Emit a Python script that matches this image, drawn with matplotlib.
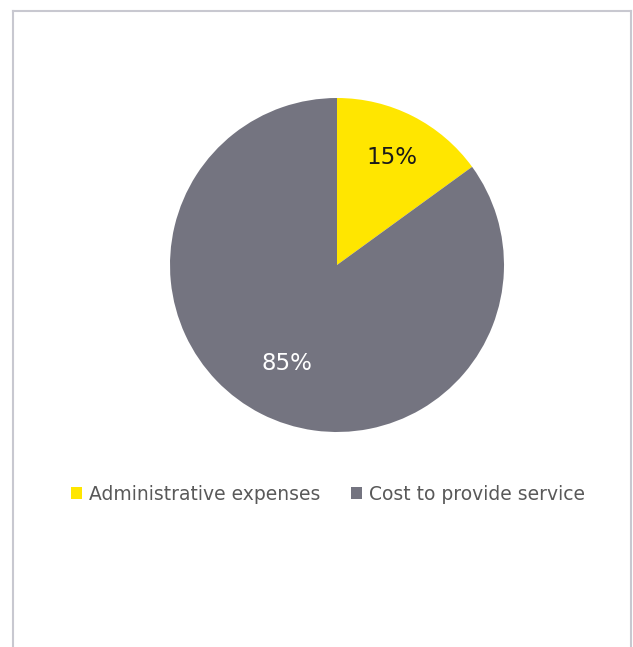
import numpy as np
import matplotlib.pyplot as plt

labels = ['Administrative expenses', 'Cost to provide service']
shares = [15, 85]
colors = ['#FFE600', '#747480']
pct_colors = ['#1a1a1a', 'white']
pct_radius = [0.72, 0.66]

fig = plt.figure(figsize=(6.33, 6.47), dpi=100)
fig.patch.set_facecolor('white')

# light grey frame, open at the bottom
W, H = 633, 647
frame = dict(color='#c8c8d0', lw=1.5)
fig.add_artist(plt.Line2D([13 / W, 13 / W], [0, 1 - 11 / H], **frame))
fig.add_artist(plt.Line2D([631 / W, 631 / W], [0, 1 - 11 / H], **frame))
fig.add_artist(plt.Line2D([13 / W, 631 / W], [1 - 11 / H, 1 - 11 / H], **frame))

ax = fig.add_axes([(337 - 167) / W, (647 - 432) / H, 334 / W, 334 / H])
wedges, texts, autotexts = ax.pie(shares, colors=colors, startangle=90, counterclock=False,
                                  autopct='%d%%', textprops={'fontsize': 16.5})
for w, t, c, r in zip(wedges, autotexts, pct_colors, pct_radius):
    ang = np.deg2rad((w.theta1 + w.theta2) / 2)
    t.set_position((r * np.cos(ang), r * np.sin(ang)))
    t.set_color(c)
ax.set_xlim(-1, 1)
ax.set_ylim(-1, 1)
ax.axis('off')

fig.legend(wedges, labels, loc='center', bbox_to_anchor=(328 / W, 1 - 494 / H),
           ncol=2, frameon=False, fontsize=13.5, handlelength=0.6, handleheight=0.6,
           handletextpad=0.4, columnspacing=1.6, labelcolor='#595959')

fig.savefig('out.png', dpi=100, facecolor='white')
